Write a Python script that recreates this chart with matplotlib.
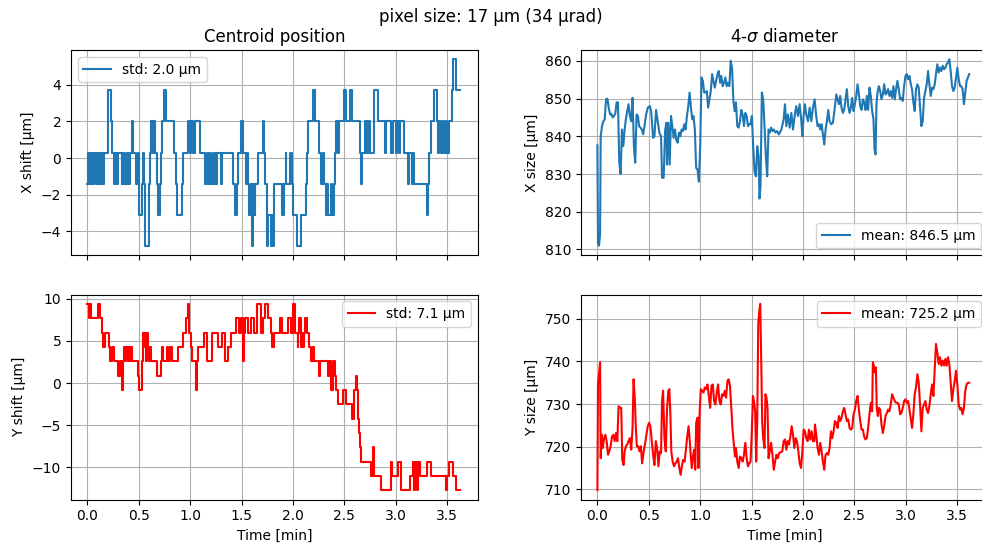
import numpy as np
import matplotlib
matplotlib.use("Agg")
import matplotlib.pyplot as plt

# centroid shift, change points (time [min], value [um])
x_shift_t = [0.000, 0.008, 0.016, 0.024, 0.036, 0.044, 0.058, 0.066, 0.080, 0.090, 0.100, 0.108,
             0.118, 0.126, 0.134, 0.142, 0.150, 0.158, 0.203, 0.226, 0.242, 0.258, 0.266, 0.274,
             0.284, 0.292, 0.300, 0.332, 0.340, 0.350, 0.358, 0.370, 0.380, 0.390, 0.398, 0.408,
             0.416, 0.435, 0.445, 0.474, 0.490, 0.500, 0.506, 0.526, 0.540, 0.552, 0.562, 0.597,
             0.608, 0.614, 0.622, 0.632, 0.642, 0.650, 0.660, 0.672, 0.686, 0.708, 0.716, 0.724,
             0.745, 0.765, 0.840, 0.862, 0.876, 0.920, 0.932, 0.980, 1.000, 1.008, 1.030, 1.048,
             1.097, 1.145, 1.160, 1.170, 1.185, 1.196, 1.210, 1.222, 1.240, 1.250, 1.262, 1.300,
             1.308, 1.420, 1.438, 1.452, 1.462, 1.496, 1.518, 1.540, 1.556, 1.564, 1.574, 1.590,
             1.600, 1.614, 1.626, 1.634, 1.660, 1.706, 1.716, 1.730, 1.748, 1.758, 1.790, 1.800,
             1.810, 1.818, 1.890, 1.898, 1.906, 1.916, 1.930, 1.936, 1.972, 1.990, 2.000, 2.040,
             2.080, 2.125, 2.135, 2.145, 2.195, 2.217, 2.255, 2.270, 2.290, 2.300, 2.318, 2.335,
             2.345, 2.365, 2.375, 2.395, 2.405, 2.420, 2.440, 2.450, 2.500, 2.520, 2.555, 2.575,
             2.650, 2.660, 2.670, 2.700, 2.712, 2.720, 2.730, 2.740, 2.752, 2.785, 2.825, 2.890,
             2.905, 2.955, 2.975, 3.000, 3.012, 3.030, 3.040, 3.080, 3.120, 3.130, 3.160, 3.170,
             3.180, 3.300, 3.312, 3.322, 3.340, 3.375, 3.400, 3.410, 3.425, 3.440, 3.455, 3.470,
             3.485, 3.500, 3.520, 3.550, 3.560, 3.585, 3.620]
x_shift = [-1.4, 0.3, -1.4, 0.3, -1.4, 0.3, -1.4, 0.3, -1.4, 0.3, -1.4, 0.3,
           -1.4, 0.3, -1.4, 0.3, -1.4, 0.3, 3.7, 2.0, 0.3, -1.4, 0.3, -1.4,
           0.3, -1.4, 0.3, -1.4, 0.3, -1.4, 0.3, -1.4, 0.3, -1.4, 0.3, -1.4,
           0.3, 2.0, 0.3, -1.4, 0.3, -1.4, -3.1, -1.4, 0.3, -1.4, -4.8, -1.4,
           0.3, 2.0, 0.3, 2.0, 0.3, 2.0, 0.3, -1.4, -3.1, -1.4, 0.3, 2.0,
           3.7, 2.0, 0.3, -1.4, -3.1, -1.4, 0.3, 2.0, 0.3, 2.0, 0.3, 2.0,
           0.3, -1.4, 0.3, -1.4, 0.3, -1.4, 0.3, -1.4, 0.3, -1.4, 0.3, -1.4,
           0.3, -1.4, -3.1, -1.4, 0.3, 2.0, 0.3, -1.4, 0.3, -1.4, -3.1, -1.4,
           -4.8, -1.4, -3.1, -1.4, 0.3, 2.0, 0.3, -1.4, -4.8, -3.1, -4.8, -3.1,
           -4.8, -1.4, -3.1, -1.4, -3.1, -1.4, 0.3, -1.4, 0.3, -1.4, -3.1, -4.8,
           -3.1, -1.4, 0.3, 2.0, 3.7, 2.0, 0.3, -1.4, 0.3, -1.4, -3.1, -1.4,
           -3.1, -1.4, -3.1, -1.4, 0.3, 2.0, 0.3, 2.0, 3.7, 2.0, 3.7, 2.0,
           0.3, -1.4, 0.3, 2.0, 0.3, 2.0, 0.3, 2.0, 0.3, 3.7, 2.0, 0.3,
           2.0, 0.3, 2.0, 0.3, 2.0, 0.3, 2.0, 0.3, -1.4, 0.3, -1.4, 0.3,
           -1.4, -3.1, -1.4, 0.3, 2.0, 3.7, 2.0, 0.3, 2.0, 0.3, 2.0, 0.3,
           2.0, 0.3, 2.0, 3.7, 5.4, 3.7, 3.7]

y_shift_t = [0.000, 0.016, 0.026, 0.038, 0.106, 0.118, 0.140, 0.152, 0.168, 0.206, 0.224, 0.240,
             0.258, 0.300, 0.312, 0.334, 0.345, 0.352, 0.368, 0.376, 0.392, 0.400, 0.412, 0.420,
             0.435, 0.490, 0.500, 0.532, 0.545, 0.558, 0.565, 0.574, 0.582, 0.590, 0.600, 0.608,
             0.616, 0.680, 0.712, 0.730, 0.738, 0.775, 0.785, 0.808, 0.818, 0.880, 0.930, 0.955,
             0.975, 0.990, 1.005, 1.015, 1.060, 1.068, 1.080, 1.130, 1.160, 1.210, 1.270, 1.310,
             1.340, 1.370, 1.400, 1.450, 1.470, 1.490, 1.512, 1.520, 1.530, 1.560, 1.590, 1.620,
             1.645, 1.690, 1.705, 1.725, 1.760, 1.785, 1.800, 1.815, 1.875, 1.895, 1.950, 1.980,
             2.000, 2.020, 2.045, 2.052, 2.060, 2.080, 2.088, 2.098, 2.105, 2.120, 2.135, 2.160,
             2.175, 2.195, 2.205, 2.225, 2.255, 2.265, 2.280, 2.340, 2.350, 2.365, 2.390, 2.405,
             2.420, 2.435, 2.490, 2.520, 2.570, 2.590, 2.608, 2.620, 2.635, 2.645, 2.655, 2.665,
             2.760, 2.775, 2.785, 2.790, 2.860, 2.955, 2.965, 3.020, 3.050, 3.140, 3.170, 3.180,
             3.190, 3.205, 3.215, 3.235, 3.250, 3.300, 3.340, 3.490, 3.500, 3.520, 3.560, 3.590,
             3.620]
y_shift = [9.4, 7.7, 9.4, 7.7, 9.4, 7.7, 6.0, 4.3, 6.0, 4.3, 2.6, 4.3,
           2.6, 0.9, 2.6, -0.8, 2.6, 4.3, 2.6, 4.3, 2.6, 4.3, 2.6, 4.3,
           2.6, 0.9, -0.8, 2.6, 6.0, 4.3, 6.0, 2.6, 6.0, 4.3, 2.6, 4.3,
           2.6, 0.9, 2.6, 4.3, 2.6, 4.3, 2.6, 4.3, 2.6, 4.3, 6.0, 7.7,
           9.4, 6.0, 4.3, 2.6, -0.8, 2.6, 4.3, 6.0, 2.6, 6.0, 4.3, 6.0,
           2.6, 4.3, 6.0, 7.7, 6.0, 7.7, 2.6, 6.0, 7.7, 6.0, 7.7, 6.0,
           9.4, 6.0, 7.7, 9.4, 7.7, 6.0, 4.3, 6.0, 7.7, 6.0, 7.7, 6.0,
           9.4, 6.0, 4.3, 6.0, 7.7, 4.3, 6.0, 4.3, 6.0, 7.7, 6.0, 4.3,
           2.6, 4.3, 2.6, 2.6, 0.9, 2.6, 2.6, 0.9, 2.6, -0.8, 2.6, 0.9,
           -0.8, -2.5, -0.8, -2.5, -4.2, -0.8, 0.9, -0.8, -4.2, -5.9, -7.6, -9.3,
           -11.0, -7.6, -9.3, -11.0, -12.7, -9.3, -11.0, -9.3, -12.7, -11.0, -9.3, -12.7,
           -9.3, -12.7, -9.3, -11.0, -11.0, -9.3, -11.0, -12.7, -11.0, -9.3, -11.0, -12.7,
           -12.7]

# 4-sigma diameter, sampled (time [min], value [um])
x_size_t = [0.000, 0.006, 0.016, 0.026, 0.032, 0.045, 0.058, 0.071, 0.084, 0.097, 0.110, 0.123,
            0.135, 0.148, 0.161, 0.174, 0.187, 0.200, 0.213, 0.226, 0.239, 0.252, 0.265, 0.277,
            0.290, 0.303, 0.316, 0.329, 0.342, 0.355, 0.368, 0.381, 0.394, 0.406, 0.419, 0.432,
            0.445, 0.458, 0.474, 0.490, 0.510, 0.523, 0.542, 0.555, 0.571, 0.587, 0.603, 0.619,
            0.629, 0.645, 0.658, 0.671, 0.677, 0.690, 0.703, 0.716, 0.729, 0.742, 0.755, 0.768,
            0.781, 0.794, 0.806, 0.819, 0.832, 0.845, 0.858, 0.871, 0.884, 0.897, 0.910, 0.923,
            0.935, 0.948, 0.961, 0.974, 0.987, 1.000, 1.013, 1.026, 1.039, 1.052, 1.065, 1.077,
            1.090, 1.103, 1.116, 1.129, 1.142, 1.155, 1.168, 1.181, 1.194, 1.206, 1.219, 1.232,
            1.245, 1.258, 1.271, 1.284, 1.297, 1.310, 1.323, 1.335, 1.348, 1.361, 1.374, 1.387,
            1.400, 1.413, 1.426, 1.439, 1.452, 1.465, 1.477, 1.490, 1.503, 1.516, 1.529, 1.542,
            1.555, 1.568, 1.577, 1.587, 1.600, 1.613, 1.626, 1.639, 1.652, 1.665, 1.677, 1.690,
            1.703, 1.716, 1.732, 1.748, 1.765, 1.790, 1.812, 1.825, 1.838, 1.854, 1.871, 1.887,
            1.903, 1.919, 1.935, 1.951, 1.968, 1.984, 1.994, 2.006, 2.019, 2.032, 2.049, 2.065,
            2.081, 2.097, 2.113, 2.129, 2.142, 2.155, 2.168, 2.181, 2.194, 2.207, 2.220, 2.233,
            2.246, 2.259, 2.275, 2.291, 2.307, 2.324, 2.337, 2.350, 2.362, 2.375, 2.388, 2.401,
            2.414, 2.427, 2.440, 2.453, 2.466, 2.479, 2.492, 2.505, 2.518, 2.531, 2.544, 2.557,
            2.570, 2.583, 2.595, 2.608, 2.621, 2.634, 2.647, 2.660, 2.673, 2.686, 2.696, 2.706,
            2.715, 2.725, 2.738, 2.751, 2.764, 2.777, 2.790, 2.803, 2.816, 2.828, 2.841, 2.854,
            2.867, 2.880, 2.893, 2.906, 2.919, 2.932, 2.945, 2.958, 2.971, 2.984, 2.997, 3.010,
            3.023, 3.036, 3.049, 3.061, 3.074, 3.087, 3.100, 3.113, 3.126, 3.139, 3.152, 3.165,
            3.178, 3.191, 3.204, 3.217, 3.230, 3.243, 3.256, 3.269, 3.282, 3.294, 3.307, 3.320,
            3.333, 3.346, 3.359, 3.372, 3.385, 3.398, 3.411, 3.424, 3.437, 3.450, 3.463, 3.476,
            3.489, 3.502, 3.515, 3.528, 3.540, 3.553, 3.566, 3.579, 3.592, 3.605, 3.618]
x_size = [837.6, 811.6, 811.0, 814.0, 840.0, 842.7, 844.0, 844.5, 849.8, 850.0, 847.6, 845.8,
          846.0, 845.0, 845.4, 846.0, 849.0, 849.0, 833.0, 830.0, 841.8, 837.4, 841.8, 844.5,
          846.7, 848.5, 845.4, 844.0, 850.2, 837.4, 833.0, 845.8, 845.4, 842.7, 842.3, 841.8,
          840.5, 842.7, 845.8, 847.6, 848.0, 846.7, 839.6, 840.0, 847.0, 844.0, 841.0, 840.0,
          829.0, 829.0, 841.4, 843.6, 832.5, 843.6, 832.5, 845.4, 842.7, 839.6, 841.8, 839.0,
          838.3, 841.0, 840.0, 841.8, 841.4, 843.2, 841.8, 845.4, 848.0, 851.6, 847.6, 844.5,
          845.4, 841.8, 831.6, 831.2, 828.0, 837.4, 855.6, 854.7, 851.6, 851.6, 852.0, 847.6,
          849.8, 852.0, 856.5, 854.7, 852.9, 854.7, 856.5, 857.3, 854.2, 856.0, 853.3, 854.2,
          855.6, 853.3, 854.2, 853.3, 860.0, 858.2, 849.4, 846.7, 849.0, 842.7, 842.3, 844.0,
          847.0, 845.8, 842.7, 846.2, 845.4, 842.7, 843.2, 843.2, 845.4, 837.0, 830.7, 829.4,
          837.4, 834.7, 823.5, 826.7, 851.6, 849.8, 842.7, 834.7, 829.4, 841.8, 841.0, 842.3,
          841.4, 841.8, 841.0, 841.4, 840.5, 841.8, 844.5, 848.5, 842.7, 845.8, 842.3, 846.2,
          841.8, 845.4, 848.0, 845.4, 848.5, 844.0, 840.0, 845.4, 848.5, 845.8, 844.0, 847.6,
          844.0, 847.6, 849.8, 845.4, 842.7, 843.2, 841.8, 843.2, 840.5, 837.8, 841.8, 844.0,
          847.0, 844.0, 843.2, 843.6, 847.0, 851.1, 849.8, 848.5, 850.7, 847.6, 846.2, 847.0,
          849.8, 852.5, 848.0, 846.2, 847.6, 850.2, 846.7, 848.5, 850.7, 853.8, 851.1, 848.0,
          847.0, 849.8, 849.0, 847.0, 850.7, 847.0, 852.9, 850.7, 846.7, 844.5, 836.5, 835.2,
          848.5, 851.6, 853.3, 852.0, 849.8, 851.1, 853.8, 851.1, 851.6, 852.5, 850.7, 852.0,
          850.2, 853.3, 849.8, 852.5, 854.7, 852.5, 849.8, 850.2, 849.4, 853.3, 856.0, 856.5,
          855.1, 856.0, 853.8, 852.5, 849.0, 846.7, 852.5, 853.8, 852.9, 847.6, 842.7, 844.0,
          850.2, 852.0, 853.8, 857.3, 853.8, 850.7, 852.9, 852.5, 853.8, 856.5, 859.1, 856.9,
          858.2, 857.3, 858.7, 857.8, 858.2, 859.1, 859.6, 860.4, 857.3, 853.3, 852.0, 852.9,
          855.6, 858.2, 855.1, 853.3, 853.3, 852.5, 848.5, 851.6, 854.7, 855.6, 856.5]

y_size_t = [0.000, 0.006, 0.016, 0.026, 0.032, 0.042, 0.052, 0.065, 0.077, 0.090, 0.103, 0.116,
            0.129, 0.142, 0.155, 0.168, 0.181, 0.194, 0.206, 0.219, 0.232, 0.242, 0.255, 0.265,
            0.277, 0.290, 0.303, 0.316, 0.329, 0.342, 0.352, 0.365, 0.374, 0.384, 0.397, 0.410,
            0.423, 0.435, 0.448, 0.465, 0.477, 0.490, 0.503, 0.516, 0.529, 0.542, 0.555, 0.568,
            0.581, 0.594, 0.606, 0.619, 0.629, 0.639, 0.652, 0.665, 0.677, 0.690, 0.700, 0.710,
            0.719, 0.732, 0.745, 0.758, 0.771, 0.784, 0.797, 0.810, 0.823, 0.835, 0.848, 0.861,
            0.874, 0.887, 0.900, 0.910, 0.919, 0.932, 0.942, 0.952, 0.961, 0.974, 0.984, 0.994,
            1.006, 1.019, 1.032, 1.045, 1.058, 1.071, 1.084, 1.097, 1.110, 1.123, 1.135, 1.148,
            1.161, 1.174, 1.187, 1.200, 1.213, 1.226, 1.239, 1.252, 1.265, 1.277, 1.290, 1.303,
            1.316, 1.329, 1.339, 1.348, 1.361, 1.374, 1.387, 1.400, 1.413, 1.426, 1.439, 1.452,
            1.465, 1.477, 1.490, 1.503, 1.513, 1.523, 1.535, 1.545, 1.555, 1.565, 1.574, 1.584,
            1.594, 1.603, 1.613, 1.626, 1.635, 1.645, 1.655, 1.665, 1.677, 1.690, 1.703, 1.716,
            1.729, 1.742, 1.755, 1.768, 1.799, 1.812, 1.825, 1.838, 1.851, 1.864, 1.877, 1.890,
            1.903, 1.916, 1.929, 1.942, 1.955, 1.968, 1.981, 1.994, 2.006, 2.019, 2.032, 2.045,
            2.058, 2.071, 2.084, 2.097, 2.110, 2.117, 2.129, 2.142, 2.155, 2.168, 2.181, 2.194,
            2.207, 2.220, 2.233, 2.246, 2.259, 2.272, 2.285, 2.298, 2.311, 2.324, 2.337, 2.350,
            2.362, 2.375, 2.388, 2.401, 2.414, 2.427, 2.440, 2.453, 2.466, 2.479, 2.492, 2.505,
            2.518, 2.531, 2.544, 2.557, 2.570, 2.583, 2.595, 2.608, 2.621, 2.634, 2.647, 2.660,
            2.673, 2.680, 2.689, 2.699, 2.709, 2.718, 2.728, 2.738, 2.751, 2.764, 2.777, 2.790,
            2.803, 2.816, 2.828, 2.841, 2.854, 2.867, 2.880, 2.893, 2.906, 2.919, 2.932, 2.945,
            2.958, 2.971, 2.984, 2.997, 3.010, 3.023, 3.036, 3.049, 3.061, 3.074, 3.087, 3.100,
            3.113, 3.126, 3.139, 3.152, 3.165, 3.178, 3.191, 3.204, 3.217, 3.230, 3.243, 3.256,
            3.269, 3.282, 3.294, 3.307, 3.320, 3.333, 3.346, 3.359, 3.372, 3.385, 3.398, 3.411,
            3.424, 3.437, 3.450, 3.463, 3.476, 3.489, 3.502, 3.515, 3.528, 3.540, 3.553, 3.566,
            3.579, 3.592, 3.605, 3.618]
y_size = [709.8, 734.6, 737.0, 739.8, 717.3, 722.8, 719.7, 722.0, 722.8, 721.3, 718.1, 718.9,
          720.1, 722.4, 722.8, 721.3, 723.2, 721.3, 729.5, 729.1, 729.1, 716.9, 715.7, 718.9,
          720.1, 720.5, 721.3, 722.0, 719.3, 724.4, 735.8, 730.7, 724.4, 720.1, 720.1, 718.9,
          720.1, 716.1, 718.5, 720.9, 722.8, 724.8, 725.6, 724.8, 721.3, 718.1, 715.7, 721.3,
          719.7, 715.4, 718.9, 718.5, 730.7, 733.1, 722.0, 718.9, 728.7, 733.1, 733.5, 727.6,
          718.9, 716.5, 715.4, 716.1, 716.5, 717.3, 715.0, 713.4, 715.7, 716.9, 716.5, 719.3,
          722.4, 724.8, 720.9, 717.3, 715.0, 718.1, 719.3, 714.6, 725.6, 726.8, 715.0, 727.6,
          733.5, 733.1, 732.7, 733.9, 733.5, 734.6, 731.9, 729.1, 734.3, 734.6, 730.7, 729.9,
          732.7, 734.6, 730.7, 729.9, 732.3, 731.9, 733.1, 731.5, 735.4, 735.8, 734.3, 729.1,
          723.6, 720.1, 717.7, 719.7, 716.5, 715.0, 717.7, 717.3, 716.5, 718.1, 720.9, 717.3,
          715.4, 716.1, 716.5, 724.0, 731.9, 730.7, 728.3, 716.5, 726.0, 748.8, 751.6, 753.5,
          740.2, 726.0, 722.0, 719.7, 732.3, 731.5, 729.1, 717.3, 718.9, 720.9, 718.1, 714.6,
          716.5, 718.1, 717.3, 718.5, 718.9, 721.3, 721.7, 719.3, 721.3, 720.5, 722.4, 724.8,
          722.8, 719.7, 722.0, 721.3, 718.9, 716.1, 715.0, 718.9, 724.0, 723.6, 722.0, 721.3,
          724.0, 721.7, 723.6, 721.3, 721.3, 725.2, 722.8, 719.7, 718.1, 720.9, 718.9, 716.5,
          714.6, 718.1, 718.5, 718.1, 719.7, 723.6, 722.0, 723.6, 726.0, 725.6, 724.4, 727.2,
          726.0, 726.8, 728.3, 729.1, 727.6, 726.0, 726.4, 724.4, 724.0, 724.4, 727.6, 728.7,
          730.7, 731.9, 728.7, 726.0, 724.0, 724.0, 722.4, 721.7, 722.0, 724.4, 727.6, 730.3,
          728.3, 739.8, 739.0, 737.4, 738.6, 729.1, 727.2, 729.1, 728.7, 725.2, 723.2, 724.8,
          727.2, 727.9, 728.7, 728.3, 729.9, 732.3, 731.5, 730.7, 730.3, 730.3, 729.9, 727.6,
          727.9, 729.1, 730.7, 731.1, 730.3, 730.7, 728.7, 726.4, 724.4, 727.6, 732.3, 733.9,
          737.0, 735.0, 729.9, 723.6, 729.1, 729.9, 730.7, 728.7, 727.9, 729.5, 732.3, 734.6,
          731.9, 738.2, 744.1, 742.1, 739.4, 741.0, 739.0, 740.2, 739.0, 740.6, 739.0, 741.0,
          739.4, 735.0, 730.7, 733.5, 735.4, 737.8, 734.6, 729.9, 728.7, 729.1, 727.6, 729.1,
          733.1, 734.6, 735.0, 735.0]

fig = plt.figure(figsize=(9.82, 5.44), dpi=100)
ax_xs = fig.add_axes([0.0723, 0.5312, 0.4145, 0.3768])
ax_xd = fig.add_axes([0.5916, 0.5312, 0.4145, 0.3768], sharex=ax_xs)
ax_ys = fig.add_axes([0.0723, 0.0818, 0.4145, 0.3768], sharex=ax_xs)
ax_yd = fig.add_axes([0.5916, 0.0818, 0.4145, 0.3768], sharex=ax_xs)

ax_xs.plot(x_shift_t, x_shift, drawstyle='steps-post', color='C0', label='std: 2.0 µm')
ax_ys.plot(y_shift_t, y_shift, drawstyle='steps-post', color='red', label='std: 7.1 µm')
ax_xd.plot(x_size_t, x_size, color='C0', label='mean: 846.5 µm')
ax_yd.plot(y_size_t, y_size, color='red', label='mean: 725.2 µm')

ax_xs.set_title('Centroid position')
ax_xd.set_title('4-$\\sigma$ diameter')
ax_xs.set_ylabel('X shift [µm]')
ax_ys.set_ylabel('Y shift [µm]')
ax_xd.set_ylabel('X size [µm]')
ax_yd.set_ylabel('Y size [µm]')
ax_ys.set_xlabel('Time [min]')
ax_yd.set_xlabel('Time [min]')

ax_xs.legend(loc='upper left')
ax_ys.legend(loc='upper right')
ax_xd.legend(loc='lower right')
ax_yd.legend(loc='upper right')

ax_xs.set_yticks([-4, -2, 0, 2, 4])
ax_ys.set_yticks([-10, -5, 0, 5, 10])

for ax in (ax_xs, ax_xd, ax_ys, ax_yd):
    ax.grid(True)
for ax in (ax_xs, ax_xd):
    ax.tick_params(labelbottom=False)
ax_xs.set_xticks([0.0, 0.5, 1.0, 1.5, 2.0, 2.5, 3.0, 3.5])
ax_xs.set_xlim(-0.16, 3.80)

fig.suptitle('pixel size: 17 µm (34 µrad)', y=0.985)

fig.savefig('out.png', dpi=100)
